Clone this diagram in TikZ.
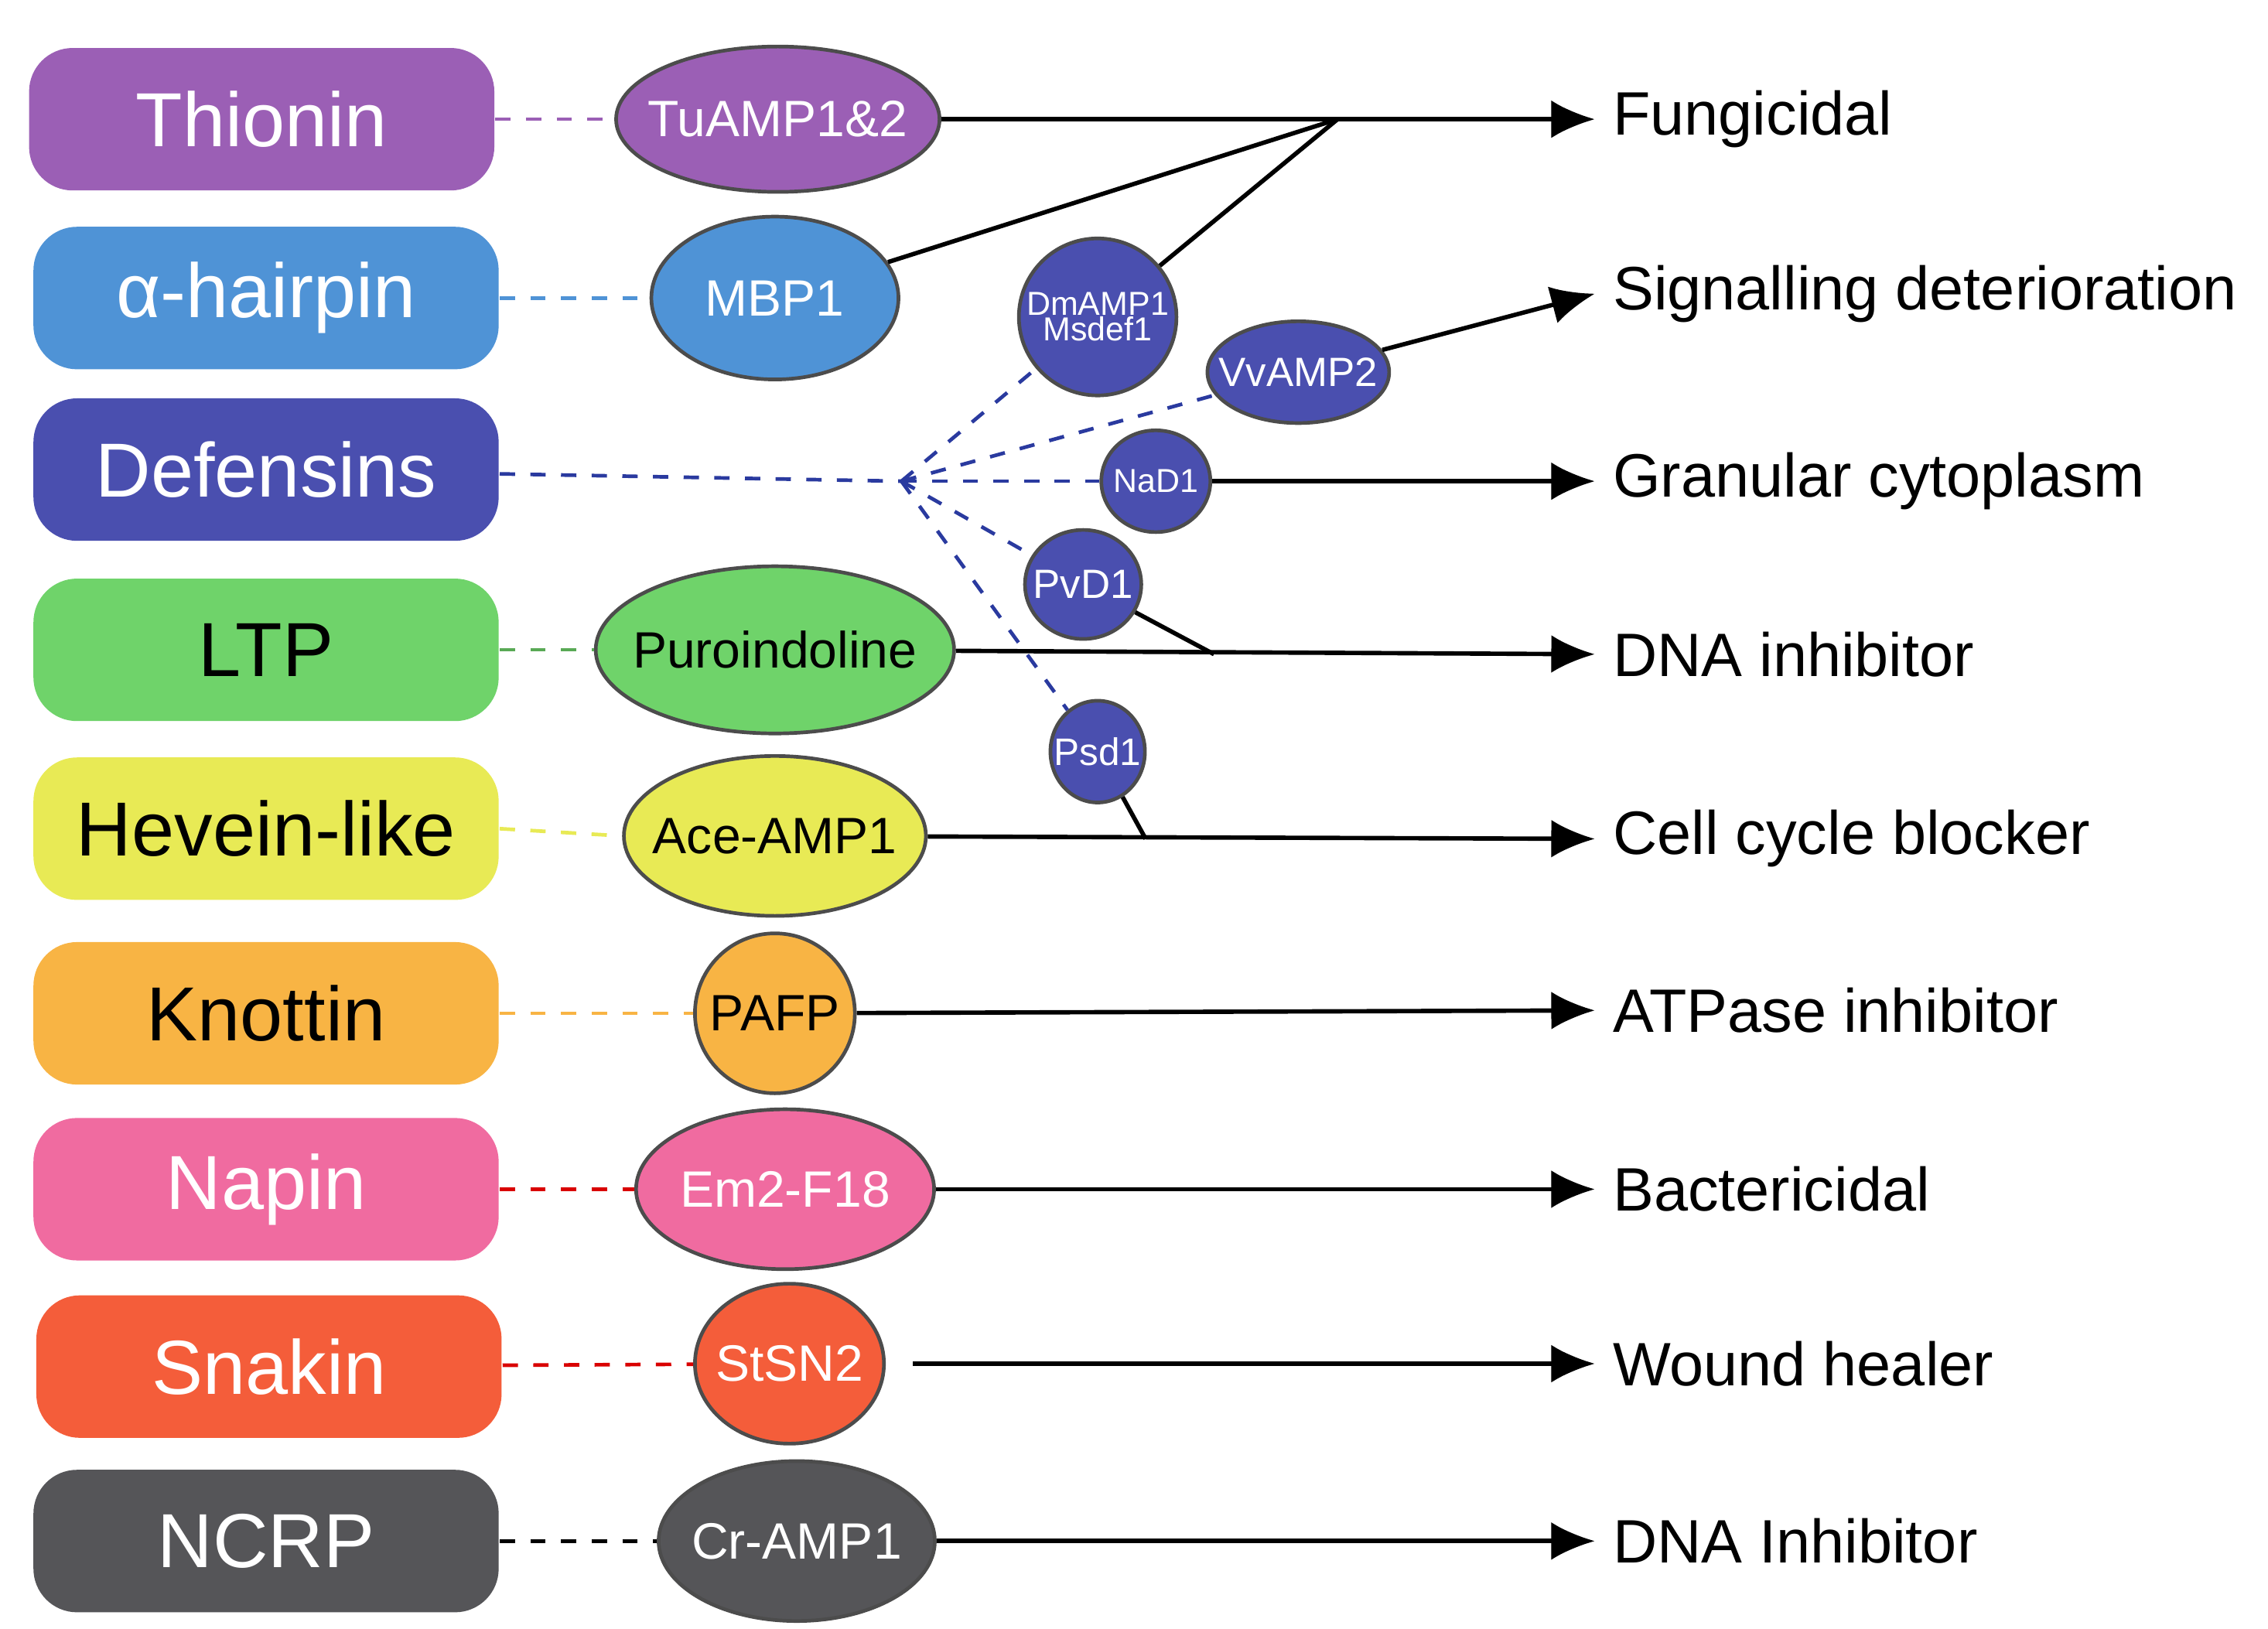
\documentclass[tikz,border=0pt]{standalone}
\usepackage{fontspec}
\setmainfont{Liberation Sans}
\usepackage{tikz}
\definecolor{cThi}{HTML}{9B5FB5}
\definecolor{cHai}{HTML}{4F93D6}
\definecolor{cDef}{HTML}{4A4FAF}
\definecolor{cLtp}{HTML}{6FD36A}
\definecolor{cHev}{HTML}{E8EA55}
\definecolor{cKno}{HTML}{F8B444}
\definecolor{cNap}{HTML}{F06BA0}
\definecolor{cSna}{HTML}{F45D3A}
\definecolor{cNcr}{HTML}{555558}
\definecolor{cDln}{HTML}{2A3A9F}
\tikzstyle{family}=[rounded corners=0.3cm, minimum width=3.2cm, minimum height=0.98cm, inner sep=0pt, font=\fontsize{15}{15}\selectfont, text=white]
\tikzstyle{pep}=[ellipse, draw=black!70, line width=0.25mm, inner xsep=-3pt, inner ysep=0pt, font=\fontsize{10}{11}\selectfont, text=white]
\tikzstyle{small}=[pep, fill=cDef, font=\fontsize{6.5}{7}\selectfont]
\tikzstyle{link}=[draw, dashed, line width=.25mm]
\tikzstyle{edge}=[draw, line width=.3mm, black]
\tikzstyle{act}=[edge, -{Latex[length=3mm,width=2.6mm]}]
\tikzstyle{effect}=[anchor=west, font=\fontsize{12}{12}\selectfont]
\usetikzlibrary{shapes.geometric,arrows.meta}
\begin{document}
\begin{tikzpicture}
\useasboundingbox (0,0) rectangle (15.6,-11.2);

% families
\node[family, fill=cThi] (f_1) at (1.8,-0.82) {Thionin};
\node[family, fill=cHai] (f_2) at (1.83,-2.05) {α-hairpin};
\node[family, fill=cDef] (f_3) at (1.83,-3.23) {Defensins};
\node[family, fill=cLtp, text=black] (f_4) at (1.83,-4.47) {LTP};
\node[family, fill=cHev, text=black] (f_5) at (1.83,-5.70) {Hevein-like};
\node[family, fill=cKno, text=black] (f_6) at (1.83,-6.97) {Knottin};
\node[family, fill=cNap] (f_7) at (1.83,-8.18) {Napin};
\node[family, fill=cSna] (f_8) at (1.85,-9.40) {Snakin};
\node[family, fill=cNcr] (f_9) at (1.83,-10.60) {NCRP};

% peptides
\node[pep, fill=cThi, minimum width=2.15cm, minimum height=1.0cm] (p_1) at (5.35,-0.82) {TuAMP1\&2};
\node[pep, fill=cHai, minimum width=1.7cm, minimum height=1.12cm] (p_2) at (5.33,-2.05) {MBP1};
\node[pep, fill=cLtp, text=black, minimum width=2.3cm, minimum height=1.15cm] (p_4) at (5.33,-4.47) {Puroindoline};
\node[pep, fill=cHev, text=black, minimum width=1.95cm, minimum height=1.1cm] (p_5) at (5.33,-5.75) {Ace-AMP1};
\node[pep, fill=cKno, text=black, minimum width=1.1cm, minimum height=1.1cm] (p_6) at (5.33,-6.97) {PAFP};
\node[pep, fill=cNap, minimum width=2.05cm, minimum height=1.1cm] (p_7) at (5.4,-8.18) {Em2-F18};
\node[pep, fill=cSna, minimum width=1.3cm, minimum height=1.1cm] (p_8) at (5.43,-9.38) {StSN2};
\node[pep, fill=cNcr, minimum width=1.9cm, minimum height=1.1cm] (p_9) at (5.48,-10.60) {Cr-AMP1};

% defensins
\coordinate (hub) at (6.2,-3.31);
\node[small, minimum width=1.08cm, minimum height=1.08cm, align=center] (d_1) at (7.55,-2.18) {DmAMP1\\[-2pt]Msdef1};
\node[small, minimum width=1.25cm, minimum height=0.7cm, font=\fontsize{8}{8}\selectfont] (d_2) at (8.93,-2.56) {VvAMP2};
\node[small, minimum width=0.75cm, minimum height=0.7cm] (d_3) at (7.95,-3.31) {NaD1};
\node[small, minimum width=0.8cm, minimum height=0.75cm, font=\fontsize{8}{8}\selectfont] (d_4) at (7.45,-4.02) {PvD1};
\node[small, minimum width=0.65cm, minimum height=0.7cm, font=\fontsize{7.5}{8}\selectfont] (d_5) at (7.55,-5.17) {Psd1};

% effects
\node[effect] (e_1) at (10.97,-0.82) {Fungicidal};
\node[effect] (e_2) at (10.97,-2.02) {Signalling deterioration};
\node[effect] (e_3) at (10.97,-3.31) {Granular cytoplasm};
\node[effect] (e_4) at (10.97,-4.5) {DNA inhibitor};
\node[effect] (e_5) at (10.97,-5.77) {Cell cycle blocker};
\node[effect] (e_6) at (10.97,-6.95) {ATPase inhibitor};
\node[effect] (e_7) at (10.97,-8.18) {Bactericidal};
\node[effect] (e_8) at (10.97,-9.38) {Wound healer};
\node[effect] (e_9) at (10.97,-10.6) {DNA Inhibitor};

\coordinate (j_1) at (9.2,-0.82);
\coordinate (j_4) at (8.35,-4.5);
\coordinate (j_5) at (7.88,-5.77);
\coordinate (s_8) at (6.28,-9.38);

% family links
\draw[link, cThi] (f_1) -- (p_1);
\draw[link, cHai] (f_2) -- (p_2);
\draw[link, cDln] (f_3) -- (hub);
\draw[link, cLtp!80!black] (f_4) -- (p_4);
\draw[link, cHev] (f_5.east) -- (p_5.west);
\draw[link, cKno] (f_6) -- (p_6);
\draw[link, red!85!black] (f_7) -- (p_7);
\draw[link, red!85!black] (f_8) -- (p_8);
\draw[link, black] (f_9) -- (p_9);
\draw[link, cDln] (hub) -- (d_1);
\draw[link, cDln] (hub) -- (d_2);
\draw[link, cDln] (hub) -- (d_3);
\draw[link, cDln] (hub) -- (d_4);
\draw[link, cDln] (hub) -- (d_5);

% actions
\draw[act] (p_1) -- (j_1) -- (e_1.west);
\draw[edge] (p_2) -- (j_1);
\draw[edge] (d_1) -- (j_1);
\draw[act] (d_2) -- (e_2.west);
\draw[act] (d_3) -- (e_3.west);
\draw[act] (p_4) -- (e_4.west);
\draw[edge] (d_4) -- (j_4);
\draw[act] (p_5) -- (e_5.west);
\draw[edge] (d_5) -- (j_5);
\draw[act] (p_6) -- (e_6.west);
\draw[act] (p_7) -- (e_7.west);
\draw[act] (s_8) -- (e_8.west);
\draw[act] (p_9) -- (e_9.west);
\end{tikzpicture}
\end{document}
